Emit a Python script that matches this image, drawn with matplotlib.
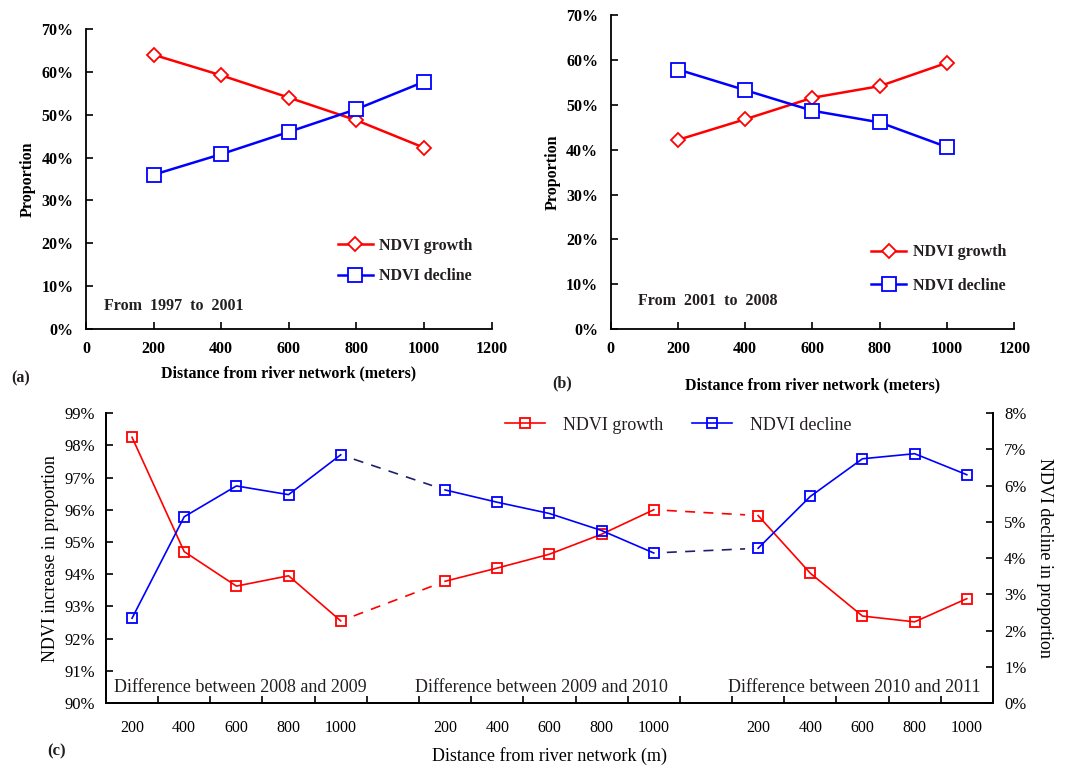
import matplotlib
matplotlib.use("Agg")
import matplotlib.pyplot as plt
from matplotlib.ticker import PercentFormatter, FixedLocator
from matplotlib.lines import Line2D

plt.rcParams['font.family'] = ['Liberation Serif', 'DejaVu Serif']
plt.rcParams['text.color'] = '#231f20'

# panels (a) and (b)
distance = [200, 400, 600, 800, 1000]
growth_a = [0.640, 0.592, 0.540, 0.487, 0.423]
decline_a = [0.360, 0.408, 0.460, 0.513, 0.577]
growth_b = [0.422, 0.468, 0.516, 0.542, 0.594]
decline_b = [0.579, 0.533, 0.487, 0.461, 0.406]

# panel (c): three periods
periods = ["Difference between 2008 and 2009",
           "Difference between 2009 and 2010",
           "Difference between 2010 and 2011"]
growth_c = [[0.9825, 0.9470, 0.9363, 0.9395, 0.9255],
            [0.9378, 0.9419, 0.9462, 0.9524, 0.9600],
            [0.9582, 0.9403, 0.9270, 0.9252, 0.9324]]
decline_c = [[0.0234, 0.0514, 0.0599, 0.0575, 0.0685],
             [0.0588, 0.0554, 0.0523, 0.0476, 0.0414],
             [0.0427, 0.0570, 0.0674, 0.0688, 0.0630]]

RED = '#ff0000'
BLUE = '#0000ff'
NAVY = '#1f1f6e'

fig = plt.figure(figsize=(10.79, 7.65), dpi=100)


def top_panel(rect, growth, decline, note, tag, tagpos, note_pos, leg_anchor, xlab_pad, spacing):
    ax = fig.add_axes(rect)
    ax.plot(distance, growth, color=RED, lw=1.8, marker='D', ms=7,
            mfc='white', mec=RED, mew=1.3, label='NDVI growth')
    ax.plot(distance, decline, color=BLUE, lw=1.8, marker='s', ms=10,
            mfc='white', mec=BLUE, mew=1.3, label='NDVI decline')
    ax.set_xlim(0, 1200)
    ax.set_ylim(0, 0.7)
    ax.set_xticks(range(0, 1201, 200))
    ax.set_yticks([i / 10 for i in range(8)])
    ax.yaxis.set_major_formatter(PercentFormatter(1.0, decimals=0))
    ax.spines['top'].set_visible(False)
    ax.spines['right'].set_visible(False)
    for s in ('left', 'bottom'):
        ax.spines[s].set_linewidth(1.3)
    ax.tick_params(direction='in', length=5, width=1.2, labelsize=11.5)
    ax.tick_params(axis='y', pad=9)
    ax.tick_params(axis='x', pad=9)
    for lab in ax.get_xticklabels() + ax.get_yticklabels():
        lab.set_fontweight('bold')
    ax.set_ylabel('Proportion', fontsize=11.5, fontweight='bold', labelpad=4)
    ax.set_xlabel('Distance from river network (meters)', fontsize=11.5,
                  fontweight='bold', labelpad=xlab_pad)
    ax.text(note_pos[0], note_pos[1], note, transform=ax.transAxes,
            fontsize=11.5, fontweight='bold', va='center')
    ax.legend(loc='upper left', bbox_to_anchor=leg_anchor, frameon=False,
              prop={'size': 11.5, 'weight': 'bold'}, labelspacing=spacing,
              handlelength=2.2, handletextpad=0.4, borderaxespad=0)
    fig.text(tagpos[0], tagpos[1], tag, fontsize=11.5, fontweight='bold')
    return ax


top_panel([0.0797, 0.570, 0.376, 0.392], growth_a, decline_a,
          'From  1997  to  2001', '(a)', (0.010, 0.500),
          (0.045, 0.077), (0.605, 0.325), 6, 0.9)
top_panel([0.566, 0.570, 0.374, 0.410], growth_b, decline_b,
          'From  2001  to  2008', '(b)', (0.512, 0.494),
          (0.068, 0.090), (0.630, 0.290), 14, 1.1)

# panel (c)
axc = fig.add_axes([0.0982, 0.081, 0.822, 0.379])
ax2 = axc.twinx()
n = len(distance)
xpos = []
labels = []
for g in range(len(periods)):
    xs = [g * (n + 1) + i for i in range(n)]
    xpos.append(xs)
    labels += [str(d) for d in distance]
    if g < len(periods) - 1:
        labels.append('')
    axc.plot(xs, growth_c[g], color=RED, lw=1.2, marker='s', ms=7,
             mfc='none', mec=RED, mew=1.3)
    ax2.plot(xs, decline_c[g], color=BLUE, lw=1.2, marker='s', ms=7,
             mfc='none', mec=BLUE, mew=1.3)
    shift = 0.35 if g == 0 else 0.58
    axc.text(xs[0] - shift, 0.9047, periods[g], fontsize=13, va='center')
    if g > 0:
        prev = xpos[g - 1][-1]
        axc.plot([prev + 0.25, xs[0] - 0.25],
                 [growth_c[g - 1][-1] + (growth_c[g][0] - growth_c[g - 1][-1]) * 0.125,
                  growth_c[g][0] - (growth_c[g][0] - growth_c[g - 1][-1]) * 0.125],
                 color=RED, lw=1.2, ls=(0, (6, 5)))
        ax2.plot([prev + 0.25, xs[0] - 0.25],
                 [decline_c[g - 1][-1] + (decline_c[g][0] - decline_c[g - 1][-1]) * 0.125,
                  decline_c[g][0] - (decline_c[g][0] - decline_c[g - 1][-1]) * 0.125],
                 color=NAVY, lw=1.2, ls=(0, (6, 5)))

ncat = len(labels)
axc.set_xlim(-0.5, ncat - 0.5)
axc.set_xticks(range(ncat))
axc.set_xticklabels(labels)
axc.xaxis.set_minor_locator(FixedLocator([i + 0.5 for i in range(ncat - 1)]))
axc.tick_params(axis='x', which='major', length=0, pad=12, labelsize=11.5)
axc.tick_params(axis='x', which='minor', direction='in', length=5, width=1.2)
axc.set_ylim(0.90, 0.99)
axc.set_yticks([0.90 + i / 100 for i in range(10)])
axc.yaxis.set_major_formatter(PercentFormatter(1.0, decimals=0))
axc.tick_params(axis='y', direction='in', length=5, width=1.2, labelsize=12, pad=8)
ax2.set_ylim(0, 0.08)
ax2.set_yticks([i / 100 for i in range(9)])
ax2.yaxis.set_major_formatter(PercentFormatter(1.0, decimals=0))
ax2.tick_params(axis='y', direction='in', length=5, width=1.2, labelsize=12, pad=8)
for a in (axc, ax2):
    a.spines['top'].set_visible(False)
    for s in ('left', 'right', 'bottom'):
        a.spines[s].set_linewidth(1.3)
axc.set_ylabel('NDVI increase in proportion', fontsize=13, labelpad=4)
ax2.set_ylabel('NDVI decline in proportion', fontsize=13, rotation=270, labelpad=19)
axc.set_xlabel('Distance from river network (m)', fontsize=13, labelpad=8)

handles = [Line2D([], [], color=RED, lw=1.2, marker='s', ms=7, mfc='none', mec=RED, mew=1.3),
           Line2D([], [], color=BLUE, lw=1.2, marker='s', ms=7, mfc='none', mec=BLUE, mew=1.3)]
axc.legend(handles, ['NDVI growth', 'NDVI decline'], loc='upper left',
           bbox_to_anchor=(0.432, 1.044), ncol=2, frameon=False, fontsize=13,
           handlelength=2.2, handletextpad=1.0, columnspacing=1.6)
fig.text(0.044, 0.012, '(c)', fontsize=12, fontweight='bold')

fig.savefig('out.png', dpi=100)
